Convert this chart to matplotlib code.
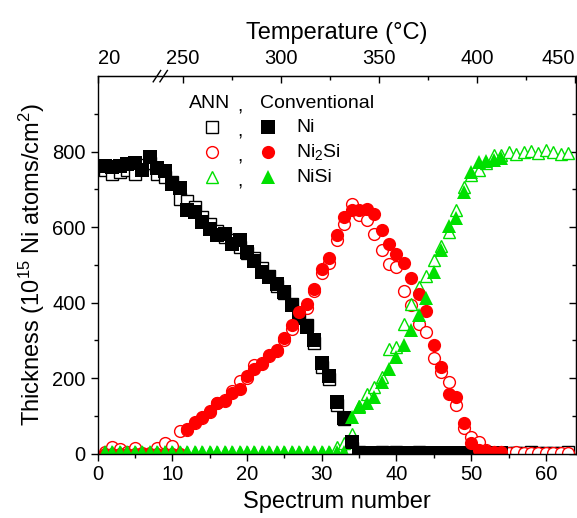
import numpy as np
import matplotlib.pyplot as plt
from matplotlib.ticker import MultipleLocator, FixedLocator
import matplotlib.transforms as mtransforms

plt.rcParams['font.family'] = ['Liberation Sans', 'DejaVu Sans']
plt.rcParams['mathtext.fontset'] = 'custom'
plt.rcParams['mathtext.rm'] = 'Liberation Sans'
plt.rcParams['mathtext.default'] = 'regular'

# spectrum numbers
spec_conv = np.arange(1, 55)
spec_ann = np.arange(1, 64)

# Ni, conventional (filled squares) and ANN (open squares)
ni_conv = [763, 760, 763, 766, 770, 752, 785, 757, 748, 715,
           704, 646, 640, 613, 594, 578, 582, 556, 565, 534,
           510, 481, 468, 450, 428, 393, 358, 335, 300, 239,
           205, 137, 93, 31, 2, 2, 2, 2, 2, 2,
           2, 2, 2, 2, 2, 2, 2, 2, 2, 2,
           2, 2, 2, 2]
ni_ann = [750, 741, 745, 752, 741, 765, 770, 742, 733, 720,
          675, 668, 652, 628, 608, 590, 574, 566, 548, 532,
          517, 492, 470, 445, 425, 395, 372, 340, 292, 230,
          198, 128, 92, 15, 4, 2, 1, 3, 2, 5,
          2, 1, 3, 1, 2, 1, 2, 1, 2, 1,
          1, 2, 1, 2, 1, 1, 2, 4, 1, 2,
          1, 2, 3]

# Ni2Si
ni2si_conv = [0, 0, 0, 0, 0, 0, 0, 0, 0, 0,
              0, 64, 84, 97, 112, 135, 140, 161, 172, 205,
              223, 237, 261, 274, 305, 340, 375, 397, 437, 490,
              519, 578, 628, 646, 646, 649, 635, 591, 556, 528,
              505, 466, 424, 377, 287, 230, 159, 150, 81, 29,
              8, 6, 5, 5]
ni2si_ann = [3, 16, 12, 3, 15, 2, 2, 14, 27, 20,
             60, 62, 80, 95, 110, 133, 142, 165, 193, 200,
             234, 240, 258, 272, 300, 330, 365, 385, 430, 478,
             505, 565, 609, 662, 631, 618, 583, 540, 503, 494,
             430, 393, 342, 322, 254, 215, 190, 128, 67, 44,
             31, 9, 4, 3, 2, 5, 1, 1, 1, 1,
             1, 1, 1]

# NiSi
nisi_conv = [5] * 33 + [97, 124, 134, 150, 190, 225, 256, 287, 327,
                        366, 412, 481, 538, 602, 625, 693, 746, 772, 776,
                        778, 783]
nisi_ann = [3] * 31 + [18, 29, 53, 126, 159, 177, 203, 278, 281,
                       344, 395, 440, 470, 512, 550, 587, 644, 706, 739,
                       750, 769, 790, 790, 798, 794, 798, 801, 796, 803,
                       798, 794, 796]

# temperature axis (top)
temp_ticks = [20, 250, 300, 350, 400, 450]
temp_minor = [275, 325, 375, 425]


def temp_to_spec(t):
    if t <= 20:
        return 0.0
    return 11.44 + (t - 250) * 0.2622


red = '#ff0000'
green = '#00e000'
ms_open = 8.5
ms_fill = 9.5
tick_fs = 14.5
label_fs = 17
fs = 14

fig = plt.figure(figsize=(5.77, 5.18), dpi=100)
ax = fig.add_axes([0.169, 0.1245, 0.829, 0.7285])

ax.plot(spec_ann, ni_ann, 's', ms=ms_open, mfc='white', mec='black', mew=1)
ax.plot(spec_ann, ni2si_ann, 'o', ms=ms_open, mfc='white', mec=red, mew=1)
ax.plot(spec_ann, nisi_ann, '^', ms=ms_open, mfc='white', mec=green, mew=1)
ax.plot(spec_conv, ni_conv, 's', ms=ms_fill, color='black', mew=0)
ax.plot(spec_conv, ni2si_conv, 'o', ms=ms_fill, color=red, mew=0)
ax.plot(spec_conv, nisi_conv, '^', ms=ms_fill, color=green, mew=0)

ax.set_xlim(0, 64)
ax.set_ylim(0, 1000)
ax.set_yticks([0, 200, 400, 600, 800])
ax.yaxis.set_minor_locator(FixedLocator([100, 300, 500, 700, 900]))
ax.xaxis.set_major_locator(MultipleLocator(10))
ax.xaxis.set_minor_locator(MultipleLocator(5))
ax.tick_params(axis='both', which='major', direction='out', length=5,
               width=1, labelsize=tick_fs)
ax.tick_params(axis='both', which='minor', direction='out', length=3, width=1)
for sp in ax.spines.values():
    sp.set_linewidth(1)

ax.set_xlabel('Spectrum number', fontsize=label_fs, labelpad=5)
ax.set_ylabel('Thickness (10$^{15}$ Ni atoms/cm$^2$)', fontsize=label_fs,
              labelpad=4)

# right spine ticks point inwards
sec_r = ax.secondary_yaxis('right')
sec_r.set_yticks([0, 200, 400, 600, 800])
sec_r.yaxis.set_minor_locator(FixedLocator([100, 300, 500, 700, 900]))
sec_r.tick_params(which='both', direction='in', labelright=False, width=1)
sec_r.tick_params(which='major', length=5)
sec_r.tick_params(which='minor', length=3)

# top temperature axis
top = ax.secondary_xaxis('top')
top.set_xticks([temp_to_spec(t) for t in temp_ticks])
top.set_xticklabels([str(t) for t in temp_ticks], fontsize=tick_fs)
top.xaxis.set_minor_locator(FixedLocator([temp_to_spec(t) for t in temp_minor]))
top.tick_params(which='both', direction='in', width=1)
top.tick_params(which='major', length=5, pad=6)
top.tick_params(which='minor', length=3)
labs = top.get_xticklabels()
labs[0].set_ha('left')
labs[-1].set_ha('right')
top.set_xlabel('Temperature (\u00b0C)', fontsize=label_fs, labelpad=7)

# axis break mark on top spine
brk_x = 8.4
trans = mtransforms.blended_transform_factory(ax.transData, ax.transAxes)
for dx in (-0.45, 0.45):
    ax.plot([brk_x + dx - 0.5, brk_x + dx + 0.5], [0.985, 1.015],
            color='black', lw=1, transform=trans, clip_on=False)

# legend drawn as a small table
hy = 0.928
rows_y = [0.865, 0.799, 0.732]
ax.text(0.191, hy, 'ANN', transform=ax.transAxes, fontsize=fs, va='center')
ax.text(0.292, hy - 0.01, ',', transform=ax.transAxes, fontsize=fs, va='center')
ax.text(0.340, hy, 'Conventional', transform=ax.transAxes, fontsize=fs,
        va='center')
leg = [('s', 'black', 'Ni'), ('o', red, 'Ni$_2$Si'), ('^', green, 'NiSi')]
for (m, c, lab), y in zip(leg, rows_y):
    ax.plot([0.239], [y], m, ms=ms_open, mfc='white', mec=c, mew=1,
            transform=ax.transAxes, clip_on=False)
    ax.text(0.292, y - 0.012, ',', transform=ax.transAxes, fontsize=fs,
            va='center')
    ax.plot([0.356], [y], m, ms=ms_fill, color=c, mew=0,
            transform=ax.transAxes, clip_on=False)
    ax.text(0.415, y, lab, transform=ax.transAxes, fontsize=fs, va='center')

fig.savefig('out.png', dpi=100)
